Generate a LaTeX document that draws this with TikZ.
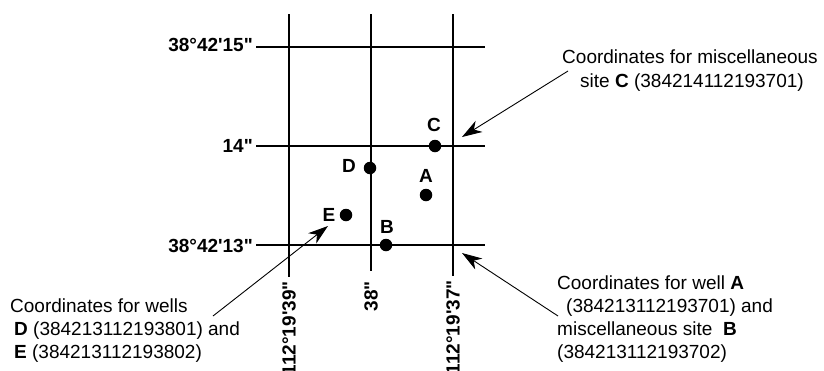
\documentclass[tikz,border=0pt]{standalone}
\usepackage{fontspec}
\setmainfont{Liberation Sans}[Ligatures=TeXOff]
\usetikzlibrary{arrows.meta}
\begin{document}
\begin{tikzpicture}[x=1pt,y=-1pt,
  grid/.style={line width=2.6pt},
  dot/.style={circle,fill=black,inner sep=0pt,minimum size=12.5pt},
  lbl/.style={font=\fontsize{19}{23}\selectfont\bfseries,inner sep=0pt},
  txt/.style={font=\fontsize{19}{23}\selectfont,inner sep=0pt,anchor=base west},
  ctxt/.style={font=\fontsize{19}{23}\selectfont,inner sep=0pt,anchor=base},
  arr/.style={line width=0.9pt,-{Stealth[length=20pt,width=13pt,inset=6pt]}}]
\useasboundingbox (0,0) rectangle (824,370);
% grid labels
\node[lbl,anchor=east] (h1) at (253,45) {38°42'15"};
\node[lbl,anchor=east] (h2) at (253,146) {14"};
\node[lbl,anchor=east] (h3) at (253,246) {38°42'13"};
\node[lbl,anchor=east,rotate=90] (v1) at (289,281) {112°19'39"};
\node[lbl,anchor=east,rotate=90] (v2) at (371,281) {38"};
\node[lbl,anchor=east,rotate=90] (v3) at (453,280) {112°19'37"};
% grid lines
\coordinate (t1) at (289,14);
\coordinate (t2) at (371,14);
\coordinate (t3) at (453,14);
\coordinate (b1) at (289,277);
\coordinate (b2) at (371,271);
\coordinate (b3) at (453,276);
\coordinate (e1) at (485,47);
\coordinate (e2) at (485,146);
\coordinate (e3) at (485,245);
\coordinate (s1) at (256,47);
\coordinate (s2) at (256,146);
\coordinate (s3) at (256,245);
\draw[grid] (t1) -- (b1);
\draw[grid] (t2) -- (b2);
\draw[grid] (t3) -- (b3);
\draw[grid] (s1) -- (e1);
\draw[grid] (s2) -- (e2);
\draw[grid] (s3) -- (e3);
% sites
\node[dot] (C) at (435,146) {};
\node[dot] (D) at (370,168) {};
\node[dot] (A) at (426,195) {};
\node[dot] (E) at (346,215) {};
\node[dot] (B) at (386,245) {};
\node[lbl] (lC) at (434,125) {C};
\node[lbl] (lD) at (349,166) {D};
\node[lbl] (lA) at (426,176) {A};
\node[lbl] (lE) at (329,215) {E};
\node[lbl] (lB) at (387,227) {B};
% texts
\node[ctxt] (tc1) at (690,63) {Coordinates for miscellaneous};
\node[ctxt] (tc2) at (692,87) {site \textbf{C} (384214112193701)};
\node[txt] (ta1) at (557,289) {Coordinates for well \textbf{A}};
\node[txt] (ta2) at (566,312) {(384213112193701) and};
\node[txt] (ta3) at (557,335) {miscellaneous site\ \ \textbf{B}};
\node[txt] (ta4) at (557,358) {(384213112193702)};
\node[txt] (td1) at (10,312) {Coordinates for wells};
\node[txt] (td2) at (14,335) {\textbf{D} (384213112193801) and};
\node[txt] (td3) at (14,358) {\textbf{E} (384213112193802)};
% arrows
\coordinate (cT) at (568,71);
\coordinate (cH) at (462,137);
\coordinate (abT) at (558,316);
\coordinate (abH) at (462,253);
\coordinate (deT) at (213,316);
\coordinate (deH) at (328,226);
\draw[arr] (cT) -- (cH);
\draw[arr] (abT) -- (abH);
\draw[arr] (deT) -- (deH);
\end{tikzpicture}
\end{document}
